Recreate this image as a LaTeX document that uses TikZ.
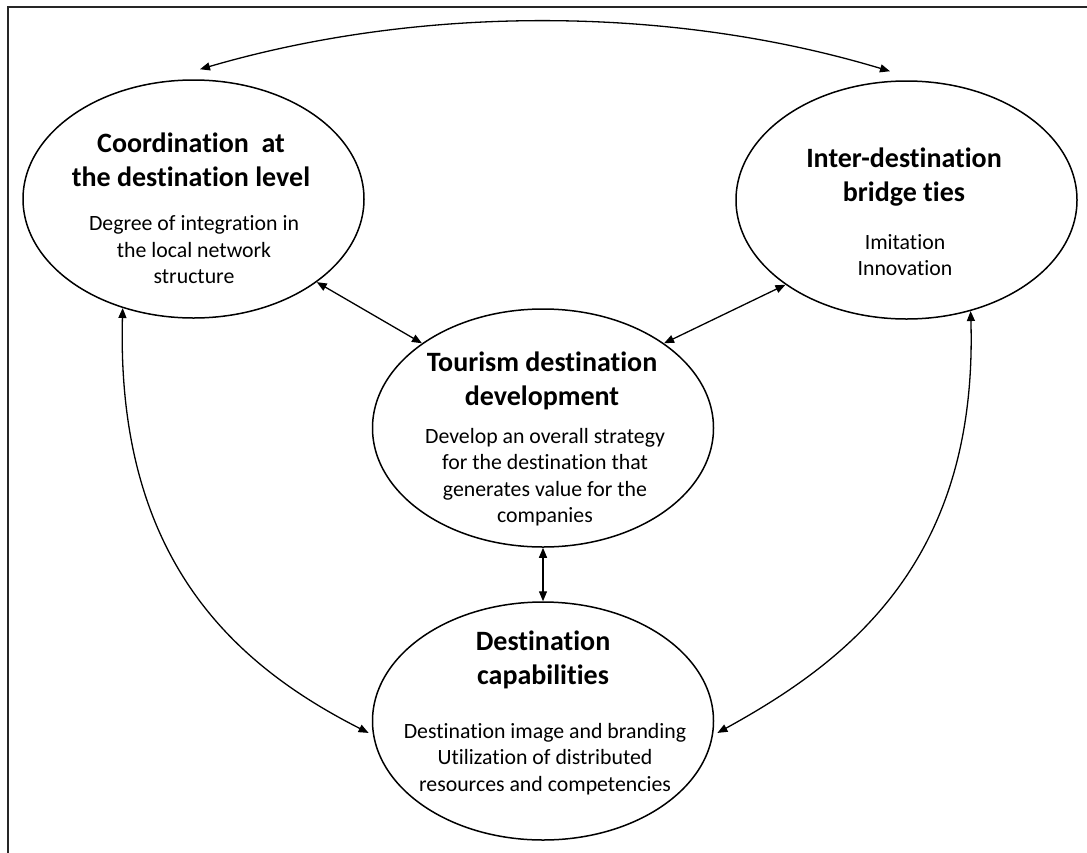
\documentclass[tikz,border=0pt]{standalone}
\usepackage{fontspec}
\setmainfont{Carlito}[Ligatures=NoCommon]
\usetikzlibrary{shapes.geometric,arrows.meta}
\begin{document}
\begin{tikzpicture}[x=1pt,y=-1pt,
 oval/.style={draw, ellipse, line width=1.5pt, minimum width=341pt, minimum height=238pt, inner sep=0pt},
 ttl/.style={font=\fontsize{28}{34}\selectfont\bfseries, align=center, inner sep=0pt},
 sub/.style={font=\fontsize{21.8}{26.5}\selectfont, align=center, inner sep=0pt},
 link/.style={line width=1.3pt, {Triangle[length=10pt,width=8pt]}-{Triangle[length=10pt,width=8pt]}},
 frame/.style={draw=black!85, line width=1.8pt}]
\clip (0,0) rectangle (1087,852);
\fill[white] (0,0) rectangle (1087,852);
\draw[frame] (8,7) rectangle (1120,880);

\node[oval] (coord) at (193.5,199) {};
\node[oval] (inter) at (906.5,200) {};
\node[oval] (tour)  at (543,428) {};
\node[oval] (cap)   at (543,721) {};

\node[ttl] (coordT) at (191,160) {Coordination\ \ at\\the destination level};
\node[sub] (coordS) at (194,250) {Degree of integration in\\the local network\\structure};
\node[ttl] (interT) at (904,177.5) {Inter-destination\\bridge ties};
\node[sub] (interS) at (905,255) {Imitation\\Innovation};
\node[ttl] (tourT) at (542,380.5) {Tourism destination\\development};
\node[sub] (tourS) at (545,477) {Develop an overall strategy\\for the destination that\\generates value for the\\companies};
\node[ttl] (capT) at (543,660) {Destination\\capabilities};
\node[sub] (capS) at (545,759) {Destination image and branding\\Utilization of distributed\\resources and competencies};

\coordinate (topL) at ([xshift=6.5pt,yshift=10pt]coord.north);
\coordinate (topR) at ([xshift=-16.5pt,yshift=9pt]inter.north);
\draw[link] (topL) .. controls (420,5) and (670,5) .. (topR);

\draw[link] (coord.-34) -- (tour.145);
\draw[link] (inter.215) -- (tour.35);
\draw[link] (tour.south) -- (cap.north);

\coordinate (capL) at ([xshift=-4pt]cap.184);
\coordinate (capR) at ([xshift=4pt]cap.-4);
\draw[link] (coord.237) .. controls (116,560) and (235,665) .. (capL);
\draw[link] (inter.-60) .. controls (978,560) and (850,660) .. (capR);
\end{tikzpicture}
\end{document}
